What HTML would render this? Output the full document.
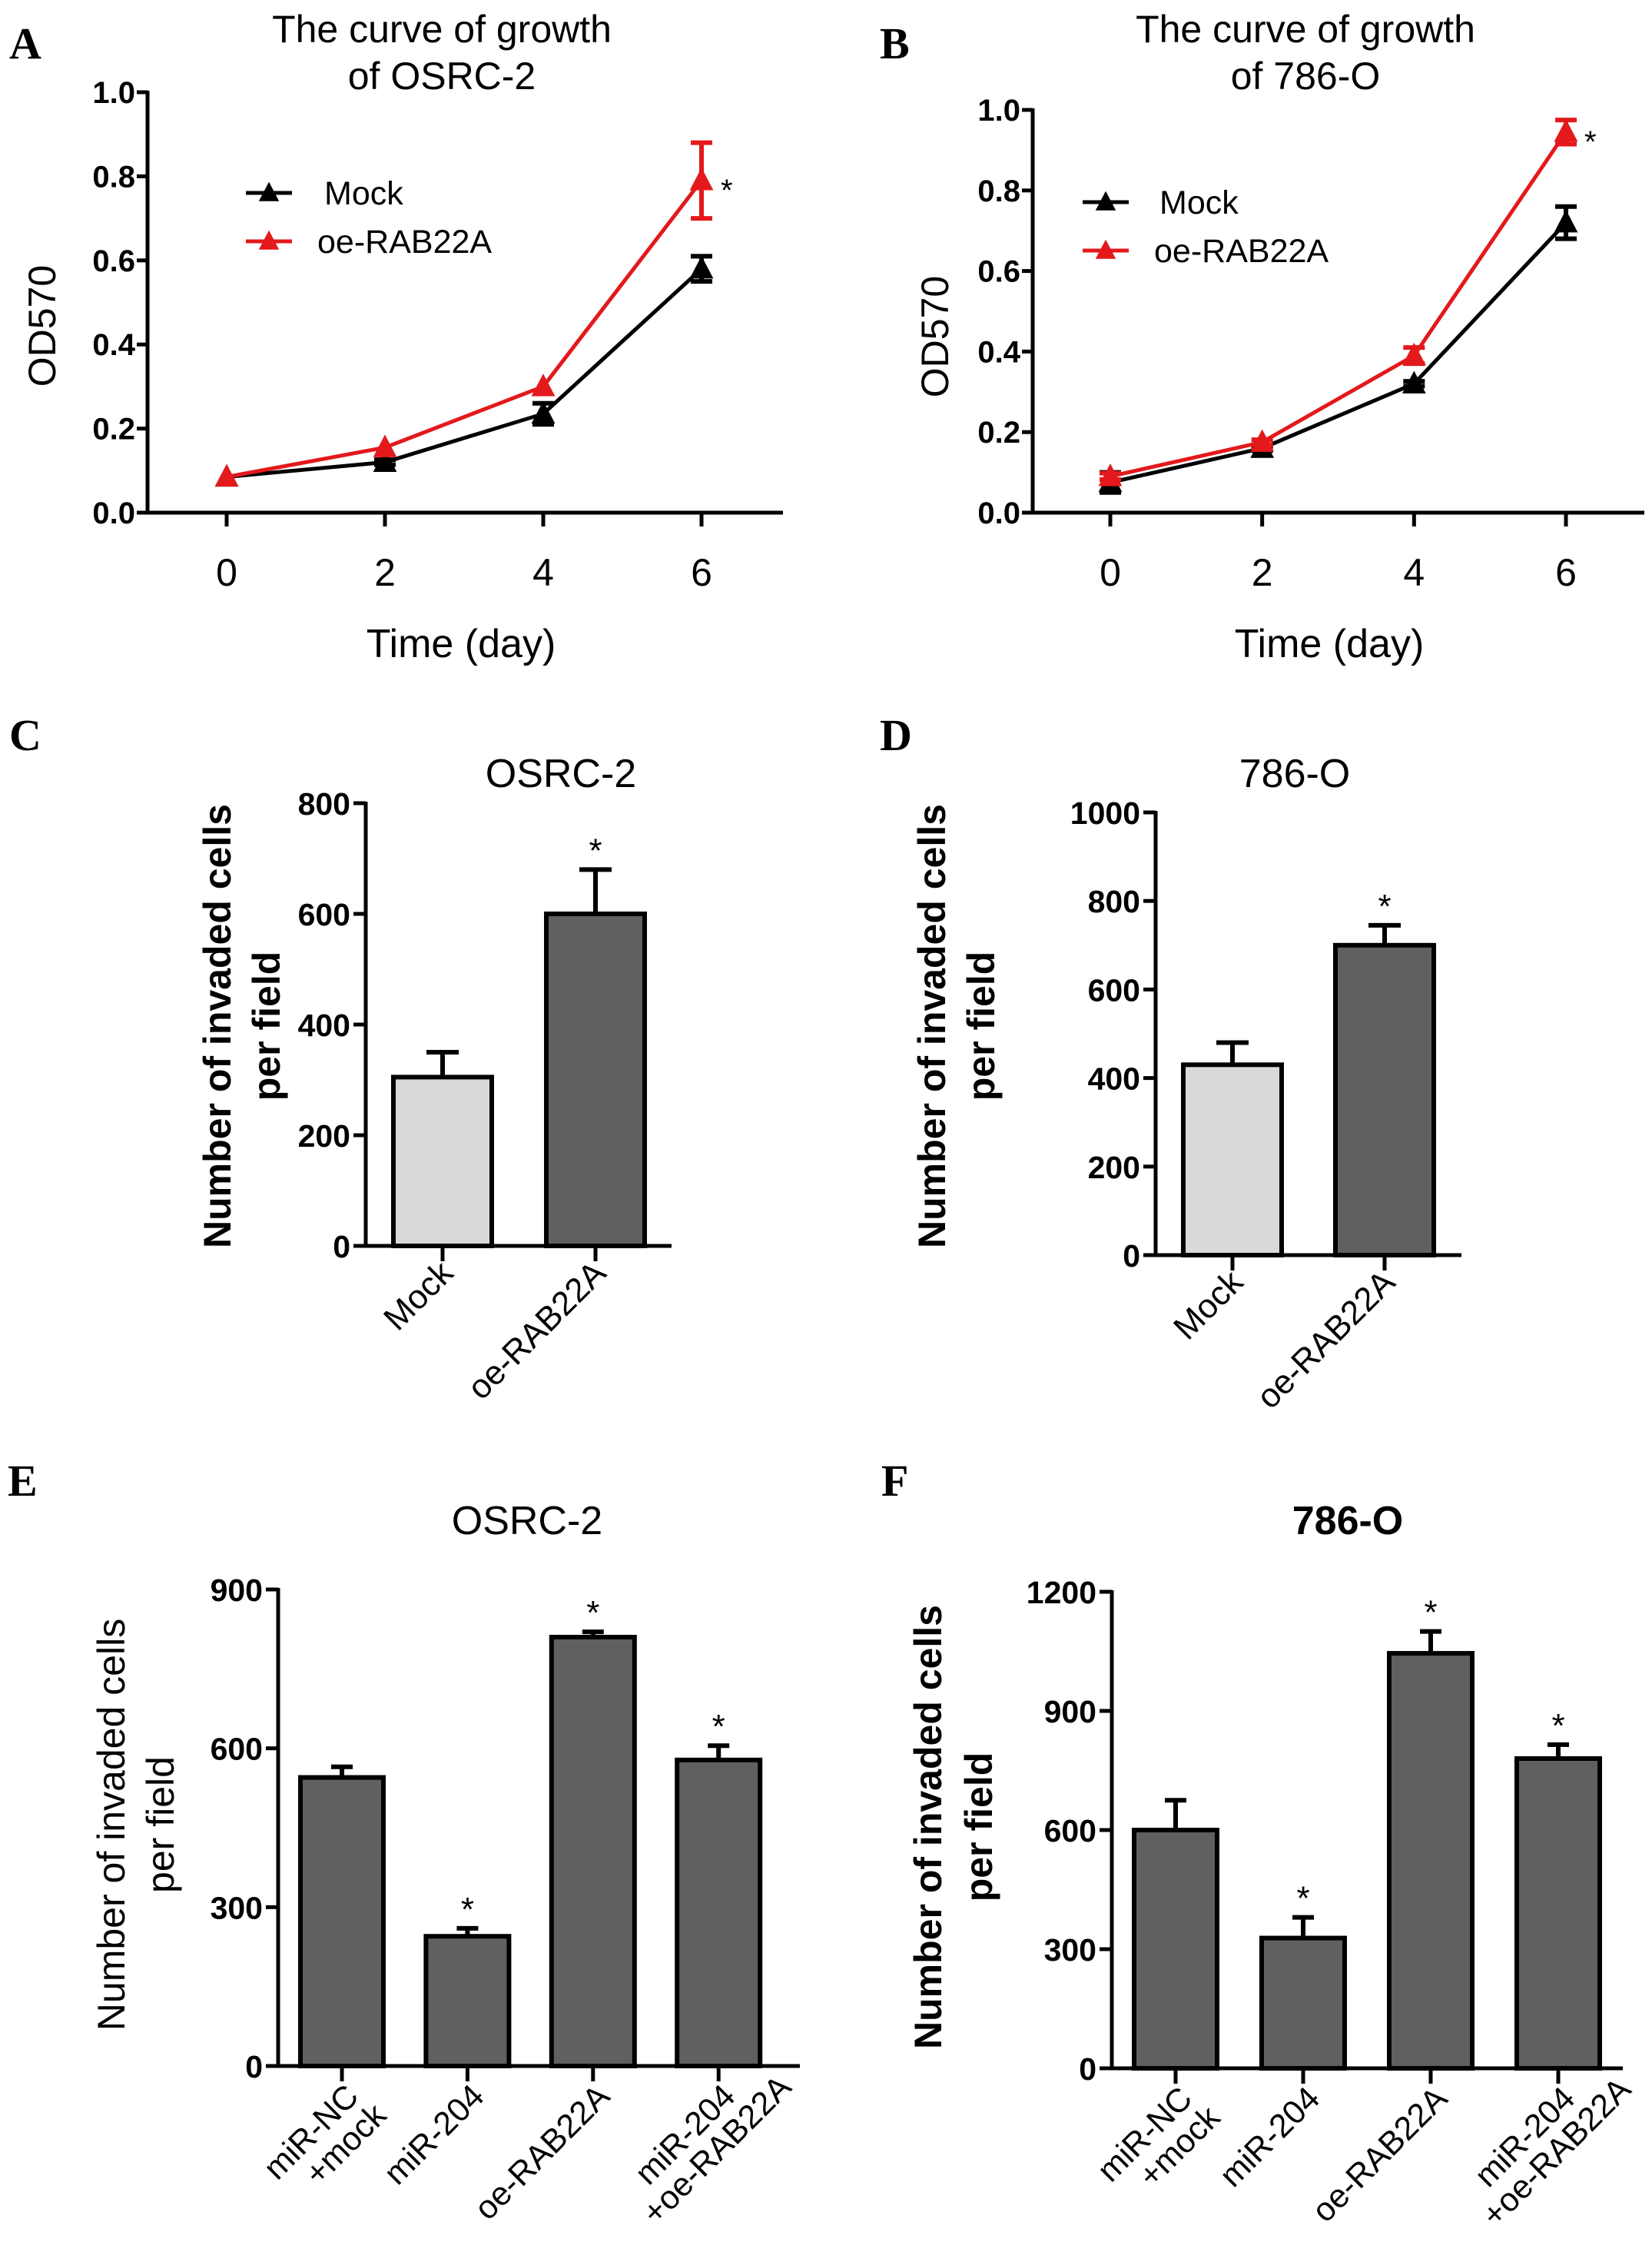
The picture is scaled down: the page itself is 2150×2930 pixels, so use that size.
<!DOCTYPE html>
<html><head><meta charset="utf-8"><style>
html,body{margin:0;padding:0;background:#fff}
svg{display:block}
text{font-family:"Liberation Sans",Arial,sans-serif;fill:#000}
.pl{font-family:"Liberation Serif",serif;font-weight:bold;font-size:58px}
</style></head><body>
<svg id="fig" width="2150" height="2930" viewBox="0 0 2150 2930" xmlns="http://www.w3.org/2000/svg">
<rect width="2150" height="2930" fill="#fff"/>
<text class="pl" x="12" y="76">A</text>
<text class="pl" x="1145" y="76">B</text>
<text class="pl" x="12" y="976">C</text>
<text class="pl" x="1145" y="976">D</text>
<text class="pl" x="10" y="1946">E</text>
<text class="pl" x="1147" y="1946">F</text>
<g id="root"></g>
</svg>
<script>
// ---------- data ----------
const days = [0, 2, 4, 6];
const lineYTicks = [0, 0.2, 0.4, 0.6, 0.8, 1.0];
const lineYTickLabels = ["0.0", "0.2", "0.4", "0.6", "0.8", "1.0"];
const mockA = [0.085, 0.12, 0.235, 0.58];
const mockErrA = [0, 0.006, 0.025, 0.03];
const oeA = [0.085, 0.155, 0.30, 0.79];
const oeErrA = [0, 0, 0, 0.09];
const mockB = [0.075, 0.16, 0.32, 0.72];
const mockErrB = [0.025, 0.006, 0.006, 0.04];
const oeB = [0.09, 0.175, 0.39, 0.945];
const oeErrB = [0.008, 0.006, 0.02, 0.03];

const catCD = [["Mock"], ["oe-RAB22A"]];
const valC = [305, 600];
const errC = [45, 80];
const sigC = [false, true];
const ticksC = [0, 200, 400, 600, 800];
const valD = [430, 700];
const errD = [50, 45];
const sigD = [false, true];
const ticksD = [0, 200, 400, 600, 800, 1000];

const catEF = [["miR-NC", "+mock"], ["miR-204"], ["oe-RAB22A"], ["miR-204", "+oe-RAB22A"]];
const valE = [545, 245, 810, 578];
const errE = [20, 15, 10, 27];
const sigE = [false, true, true, true];
const ticksE = [0, 300, 600, 900];
const valF = [600, 328, 1045, 780];
const errF = [75, 52, 55, 35];
const sigF = [false, true, true, true];
const ticksF = [0, 300, 600, 900, 1200];

// ---------- helpers ----------
const NS = "http://www.w3.org/2000/svg";
const root = document.getElementById("root");
function mk(tag, attrs, parent, txt) {
  const e = document.createElementNS(NS, tag);
  for (const k in attrs) e.setAttribute(k, attrs[k]);
  if (txt !== undefined) e.textContent = txt;
  (parent || root).appendChild(e);
  return e;
}
function tri(g, x, y, s, color) {
  return mk("polygon", {points: `${x},${y - s * 0.6} ${x - s * 0.55},${y + s * 0.45} ${x + s * 0.55},${y + s * 0.45}`, fill: color}, g);
}

// ---------- line chart ----------
function lineChart(L, mock, mockErr, oe, oeErr, pfx) {
  const g = mk("g", {});
  
  
  const sx = d => L.x0 + (d - days[0]) / (days[3] - days[0]) * (L.x6 - L.x0);
  const sy = v => L.yb - v * (L.yb - L.yt);
  const t = mk("text", {x: L.tx, y: 55, "text-anchor": "middle", "font-size": 50}, g);
  
  
  mk("tspan", {x: L.tx}, t, "The curve of growth");
  mk("tspan", {x: L.tx, dy: 61}, t, L.title2);
  const ya = mk("line", {x1: L.ax, y1: sy(1) - 2, x2: L.ax, y2: sy(0) + 2.5, stroke: "#000", "stroke-width": 5}, g);
  
  
  const xa = mk("line", {x1: L.ax - 2.5, y1: sy(0), x2: L.xend, y2: sy(0), stroke: "#000", "stroke-width": 5}, g);
  
  
  lineYTicks.forEach((v, i) => {
    mk("line", {x1: L.ax - 14, y1: sy(v), x2: L.ax, y2: sy(v), stroke: "#000", "stroke-width": 5}, g);
    const tl = mk("text", {x: L.ax - 16, y: sy(v) + 14, "text-anchor": "end", "font-size": 40, "font-weight": "bold"}, g, lineYTickLabels[i]);
    
    
  });
  days.forEach(d => {
    mk("line", {x1: sx(d), y1: sy(0), x2: sx(d), y2: sy(0) + 18, stroke: "#000", "stroke-width": 5}, g);
    const tl = mk("text", {x: sx(d), y: 762, "text-anchor": "middle", "font-size": 50}, g, String(d));
    
    
  });
  const yt = mk("text", {x: 0, y: 0, "text-anchor": "middle", "font-size": 50, transform: `translate(${L.ytx},${L.yty}) rotate(-90)`}, g, "OD570");
  
  
  const xt = mk("text", {x: L.xtx, y: 855, "text-anchor": "middle", "font-size": 52}, g, "Time (day)");
  
  
  [[mock, mockErr, "#000", "mock"], [oe, oeErr, "#e3191c", "oe-rab22a"]].forEach(([vals, errs, col, nm]) => {
    const sg = mk("g", {}, g);
    
    
    const pl = mk("polyline", {points: days.map((d, i) => `${sx(d)},${sy(vals[i])}`).join(" "), fill: "none", stroke: col, "stroke-width": 5}, sg);
    
    
    days.forEach((d, i) => {
      if (errs[i] > 0) {
        const eb = mk("path", {d: `M${sx(d)},${sy(vals[i] - errs[i])}V${sy(vals[i] + errs[i])}M${sx(d) - 14},${sy(vals[i] - errs[i])}h28M${sx(d) - 14},${sy(vals[i] + errs[i])}h28`, stroke: col, "stroke-width": 6, fill: "none"}, sg);
        
        
      }
      const p = tri(sg, sx(d), sy(vals[i]), 28, col);
      
      
    });
  });
  const st = mk("text", {x: L.starX, y: sy(oe[3]) + 26, "font-size": 40}, g, "*");
  
  
  const lg = mk("g", {}, g);
  
  
  [["Mock", "#000", L.legY1, L.legTx1], ["oe-RAB22A", "#e3191c", L.legY2, L.legTx2]].forEach(([lab, col, y, tx]) => {
    const e = mk("g", {}, lg);
    
    
    mk("line", {x1: L.legX, y1: y, x2: L.legX + 60, y2: y, stroke: col, "stroke-width": 5}, e);
    tri(e, L.legX + 30, y, 24, col);
    mk("text", {x: tx, y: y + 15, "font-size": 43}, e, lab);
  });
}
lineChart({x0: 295, x6: 913, yt: 120, yb: 667, ax: 192, xend: 1019, tx: 575, title2: "of OSRC-2",
  ytx: 72, yty: 424, xtx: 600, starX: 938, legX: 320, legY1: 251, legY2: 314, legTx1: 422, legTx2: 413},
  mockA, mockErrA, oeA, oeErrA, "a");
lineChart({x0: 1445, x6: 2038, yt: 143, yb: 667, ax: 1344, xend: 2140, tx: 1699, title2: "of 786-O",
  ytx: 1234, yty: 438, xtx: 1730, starX: 2062, legX: 1409, legY1: 263, legY2: 326, legTx1: 1509, legTx2: 1502},
  mockB, mockErrB, oeB, oeErrB, "b");

// ---------- bar chart ----------
function barChart(B, cats, vals, errs, sigs, ticks, pfx) {
  const g = mk("g", {});
  
  
  const vmax = ticks[ticks.length - 1];
  const sy = v => B.yb - v / vmax * (B.yb - B.yt);
  const sx = i => B.c0 + i * B.step;
  const t = mk("text", {x: B.tx, y: B.ty, "text-anchor": "middle", "font-size": 52, "font-weight": B.titleBold ? "bold" : "normal"}, g, B.title);
  
  
  const yt = mk("text", {x: 0, y: 0, "text-anchor": "middle", "font-size": B.ytSize, "font-weight": B.ytBold ? "bold" : "normal", transform: `translate(${B.ytx},${B.yty}) rotate(-90)`}, g);
  
  
  mk("tspan", {x: 0, dy: 0}, yt, "Number of invaded cells");
  mk("tspan", {x: 0, dy: B.ytGap}, yt, "per field");
  vals.forEach((v, i) => {
    const x = sx(i);
    if (errs[i] > 0) {
      const eb = mk("path", {d: `M${x},${sy(v)}V${sy(v + errs[i])}M${x - B.cap / 2},${sy(v + errs[i])}h${B.cap}`, stroke: "#000", "stroke-width": 6, fill: "none"}, g);
      
      
    }
    const r = mk("rect", {x: x - B.bw / 2, y: sy(v), width: B.bw, height: sy(0) - sy(v), fill: B.fills[i], stroke: "#000", "stroke-width": 6}, g);
    
    
    if (sigs[i]) {
      const st = mk("text", {x: x, y: sy(v + errs[i]) - 10, "text-anchor": "middle", "font-size": 44}, g, "*");
      
      
    }
    mk("line", {x1: x, y1: sy(0), x2: x, y2: sy(0) + 20, stroke: "#000", "stroke-width": 5}, g);
    const ax = x + B.lx, ay = sy(0) + B.ly;
    const lt = mk("text", {x: 0, y: 0, "font-size": B.catSize, "text-anchor": "end", transform: `translate(${ax},${ay}) rotate(-45)`}, g);
    
    
    cats[i].forEach((line, j) => {
      mk("tspan", {x: j === 0 ? 0 : (B.l2dx[i] || 0), dy: j === 0 ? 0 : B.catSize * 1.0}, lt, line);
    });
  });
  const ya = mk("line", {x1: B.ax, y1: sy(vmax) - 2, x2: B.ax, y2: sy(0) + 2.5, stroke: "#000", "stroke-width": 5}, g);
  
  
  const xa = mk("line", {x1: B.ax - 2.5, y1: sy(0), x2: B.xend, y2: sy(0), stroke: "#000", "stroke-width": 5}, g);
  
  
  ticks.forEach(v => {
    mk("line", {x1: B.ax - 16, y1: sy(v), x2: B.ax, y2: sy(v), stroke: "#000", "stroke-width": 5}, g);
    const tl = mk("text", {x: B.ax - 20, y: sy(v) + 15, "text-anchor": "end", "font-size": 41, "font-weight": "bold"}, g, String(v));
    
    
  });
}
barChart({yt: 1045, yb: 1621, ax: 476, xend: 874, c0: 576, step: 199, bw: 128, cap: 42,
  fills: ["#d9d9d9", "#606060"], title: "OSRC-2", tx: 730, ty: 1024, titleBold: false,
  ytx: 300, yty: 1335, ytSize: 50, ytBold: true, ytGap: 64, lx: 16, ly: 38, catSize: 44, l2dx: []},
  catCD, valC, errC, sigC, ticksC, "c");
barChart({yt: 1057, yb: 1633, ax: 1504, xend: 1902, c0: 1604, step: 198, bw: 128, cap: 42,
  fills: ["#d9d9d9", "#606060"], title: "786-O", tx: 1685, ty: 1024, titleBold: false,
  ytx: 1230, yty: 1335, ytSize: 50, ytBold: true, ytGap: 64, lx: 16, ly: 38, catSize: 44, l2dx: []},
  catCD, valD, errD, sigD, ticksD, "d");
barChart({yt: 2068, yb: 2688, ax: 362, xend: 1041, c0: 445, step: 163.4, bw: 108, cap: 28,
  fills: ["#606060", "#606060", "#606060", "#606060"], title: "OSRC-2", tx: 686, ty: 1996, titleBold: false,
  ytx: 162, yty: 2374, ytSize: 50, ytBold: false, ytGap: 64, lx: 24, ly: 42, catSize: 43, l2dx: [8, 0, 0, 60]},
  catEF, valE, errE, sigE, ticksE, "e");
barChart({yt: 2071, yb: 2691, ax: 1447, xend: 2112, c0: 1530, step: 166, bw: 108, cap: 28,
  fills: ["#606060", "#606060", "#606060", "#606060"], title: "786-O", tx: 1754, ty: 1996, titleBold: true,
  ytx: 1225, yty: 2377, ytSize: 50, ytBold: true, ytGap: 66, lx: 24, ly: 42, catSize: 43, l2dx: [8, 0, 0, 60]},
  catEF, valF, errF, sigF, ticksF, "f");
</script>
</body></html>
